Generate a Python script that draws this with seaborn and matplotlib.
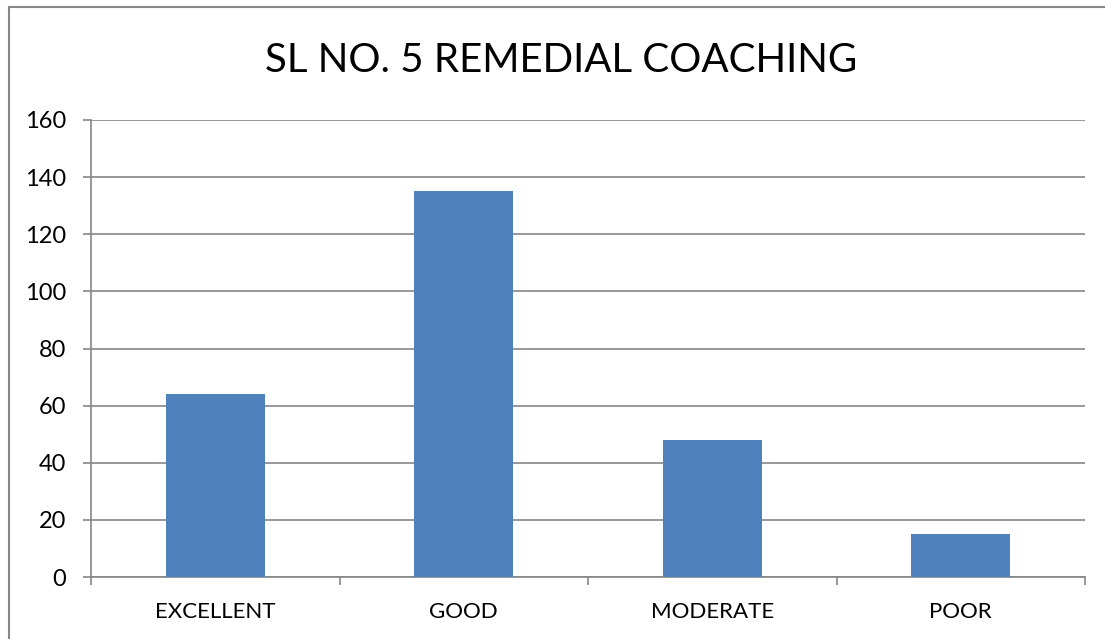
import pandas as pd
import seaborn as sns
import matplotlib.pyplot as plt
from matplotlib.patches import Rectangle

# Chart data
categories = ["EXCELLENT", "GOOD", "MODERATE", "POOR"]
counts = [64, 135, 48, 15]
y_ticks = [0, 20, 40, 60, 80, 100, 120, 140, 160]

df = pd.DataFrame({"rating": categories, "count": counts})

sns.set_style("white")
plt.rcParams["font.family"] = ["Lato", "DejaVu Sans"]

fig = plt.figure(figsize=(11.05, 6.39), dpi=100)
ax = fig.add_axes([91 / 1105, 1 - 577 / 639, 994 / 1105, 457 / 639])

sns.barplot(data=df, x="rating", y="count", color="#4F81BD", width=0.4,
            saturation=1, linewidth=0, ax=ax, zorder=3)

ax.set_ylim(0, 160)
ax.set_xlim(-0.5, len(categories) - 0.5)
ax.set_yticks(y_ticks)
ax.yaxis.grid(True, color="#868686", linewidth=1.2, zorder=0)
ax.set_xlabel("")
ax.set_ylabel("")

for side in ["top", "right"]:
    ax.spines[side].set_visible(False)
for side in ["left", "bottom"]:
    ax.spines[side].set_color("#868686")
    ax.spines[side].set_linewidth(1.2)

# x ticks sit between categories, as in the spreadsheet chart
ax.set_xticks([i - 0.5 for i in range(len(categories) + 1)], minor=True)
ax.tick_params(axis="x", which="minor", bottom=True, length=5.8, width=1.2,
               color="#868686", direction="out")
ax.tick_params(axis="x", which="major", bottom=False, length=0, labelsize=16,
               labelcolor="black", pad=18)
ax.tick_params(axis="y", left=True, length=5.8, width=1.2, color="#868686",
               direction="out", labelsize=17, labelcolor="black", pad=12)

fig.text(561 / 1105, 1 - 61 / 639, "SL NO. 5 REMEDIAL COACHING", ha="center",
         va="center", fontsize=29, color="black")

# chart area border
fig.patches.append(Rectangle((9 / 1105, -0.05), 1.2, 1 - 7 / 639 + 0.05,
                             transform=fig.transFigure, fill=False,
                             edgecolor="#868686", linewidth=1.5))

fig.savefig("out.png", dpi=100)
